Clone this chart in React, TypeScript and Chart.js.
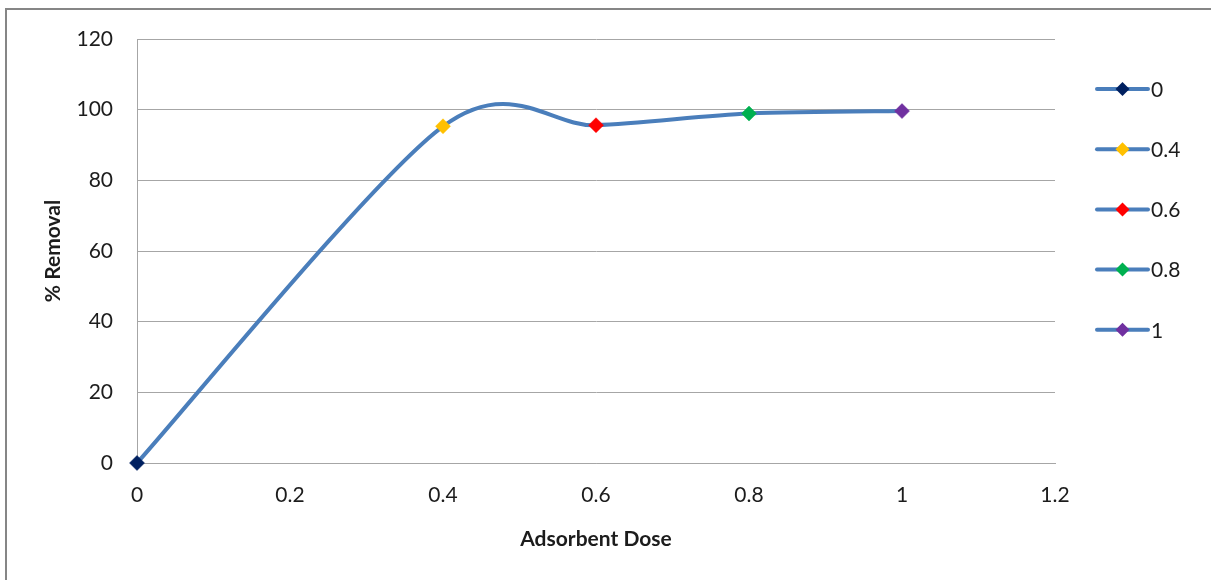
import React, { useEffect, useRef } from "react";
import { Chart, registerables } from "chart.js";

Chart.register(...registerables);

// Adsorbent dose (x) and percentage removal (y)
const doses = [0, 0.4, 0.6, 0.8, 1];
const removal = [0, 95.3, 95.6, 98.9, 99.6];
const markerColors = ["#002060", "#FFC000", "#FF0000", "#00B050", "#7030A0"];
const legendLabels = ["0", "0.4", "0.6", "0.8", "1"];
const xTickValues = [0, 0.2, 0.4, 0.6, 0.8, 1, 1.2];
const yTickValues = [0, 20, 40, 60, 80, 100, 120];

const LINE_COLOR = "#4A7EBB";
const FONT = "Lato, 'Open Sans', sans-serif";
const TEXT_COLOR = "#1c1c1c";
// Catmull-Rom style smoothing factor for the curve's control points
const SMOOTHING = 0.15;

function drawDiamond(ctx: CanvasRenderingContext2D, x: number, y: number, r: number, fill: string) {
  ctx.beginPath();
  ctx.moveTo(x, y - r);
  ctx.lineTo(x + r, y);
  ctx.lineTo(x, y + r);
  ctx.lineTo(x - r, y);
  ctx.closePath();
  ctx.fillStyle = fill;
  ctx.fill();
}

// Re-shape the bezier control points so the line is smoothed uniformly
// through its points (control offset proportional to neighbour spacing).
const uniformSmoothing = {
  id: "uniformSmoothing",
  beforeDatasetDraw(chart: any, args: any) {
    const meta = args.meta;
    const line = meta.dataset;
    if (!line) return;
    line.updateControlPoints(chart.chartArea, meta.iScale.axis);
    const pts = meta.data;
    for (let i = 0; i < pts.length; i++) {
      const p = pts[i];
      const prev = pts[i - 1] || p;
      const next = pts[i + 1] || p;
      const dx = (next.x - prev.x) * SMOOTHING;
      const dy = (next.y - prev.y) * SMOOTHING;
      p.cp1x = p.x - dx;
      p.cp1y = p.y - dy;
      p.cp2x = p.x + dx;
      p.cp2y = p.y + dy;
    }
  },
};

// Legend on the right: a line segment with a diamond marker per dose
const sideLegend = {
  id: "sideLegend",
  afterDraw(chart: any) {
    const ctx: CanvasRenderingContext2D = chart.ctx;
    const x0 = 1097;
    const x1 = 1148;
    const top = 89;
    const step = 60.2;
    ctx.save();
    legendLabels.forEach((label, i) => {
      const y = top + i * step;
      ctx.strokeStyle = LINE_COLOR;
      ctx.lineWidth = 4;
      ctx.lineCap = "round";
      ctx.beginPath();
      ctx.moveTo(x0, y);
      ctx.lineTo(x1, y);
      ctx.stroke();
      drawDiamond(ctx, (x0 + x1) / 2, y, 7, markerColors[i]);
      ctx.fillStyle = TEXT_COLOR;
      ctx.font = `21px ${FONT}`;
      ctx.textAlign = "left";
      ctx.textBaseline = "middle";
      ctx.fillText(label, 1151, y + 1);
    });
    ctx.restore();
  },
};

const fmt = (v: number) => String(Number(v.toFixed(1)));

export default function App() {
  const canvasRef = useRef<HTMLCanvasElement | null>(null);

  useEffect(() => {
    if (!canvasRef.current) return;
    const chart = new Chart(canvasRef.current, {
      type: "line",
      data: {
        datasets: [
          {
            label: "% Removal",
            data: doses.map((d, i) => ({ x: d, y: removal[i] })),
            borderColor: LINE_COLOR,
            borderWidth: 4,
            tension: 0.4,
            pointStyle: "rectRot",
            pointRadius: 7.5,
            pointBorderWidth: 0.5,
            pointBackgroundColor: markerColors,
            pointBorderColor: markerColors,
            fill: false,
            clip: false,
          },
        ],
      },
      options: {
        responsive: false,
        animation: false,
        layout: { padding: { top: 39, right: 156, left: 41, bottom: 28 } },
        plugins: {
          legend: { display: false },
          tooltip: { enabled: false },
        },
        scales: {
          x: {
            type: "linear",
            min: 0,
            max: 1.2,
            afterBuildTicks: (scale: any) => {
              scale.ticks = xTickValues.map((v) => ({ value: v }));
            },
            afterFit: (scale: any) => {
              scale.height = 89;
            },
            grid: { display: false, drawTicks: false },
            border: { display: true, color: "#A6A6A6", width: 1 },
            ticks: {
              padding: 20,
              color: TEXT_COLOR,
              font: { family: FONT, size: 21 },
              callback: (v: any) => fmt(Number(v)),
              maxRotation: 0,
            },
            title: {
              display: true,
              text: "Adsorbent Dose",
              color: TEXT_COLOR,
              font: { family: FONT, size: 21, weight: "bold" },
              padding: { top: 0, bottom: 0 },
            },
          },
          y: {
            type: "linear",
            min: 0,
            max: 120,
            afterBuildTicks: (scale: any) => {
              scale.ticks = yTickValues.map((v) => ({ value: v }));
            },
            afterFit: (scale: any) => {
              scale.width = 96;
            },
            grid: { color: "#A6A6A6", lineWidth: 1, drawTicks: false },
            border: { display: true, color: "#A6A6A6", width: 1 },
            ticks: {
              padding: 24,
              color: TEXT_COLOR,
              font: { family: FONT, size: 21 },
            },
            title: {
              display: true,
              text: "% Removal",
              color: TEXT_COLOR,
              font: { family: FONT, size: 21, weight: "bold" },
              padding: { top: 0, bottom: 0 },
            },
          },
        },
      },
      plugins: [uniformSmoothing, sideLegend],
    });
    return () => chart.destroy();
  }, []);

  return (
    <div
      style={{
        position: "fixed",
        left: 0,
        top: 0,
        width: 1211,
        height: 580,
        background: "#fff",
        overflow: "hidden",
      }}
    >
      <div
        style={{
          position: "absolute",
          left: 5,
          top: 8,
          width: 1400,
          height: 800,
          borderLeft: "2px solid #868686",
          borderTop: "2px solid #868686",
        }}
      />
      <canvas
        ref={canvasRef}
        width={1211}
        height={580}
        style={{ position: "absolute", left: 0, top: 0 }}
      />
    </div>
  );
}
